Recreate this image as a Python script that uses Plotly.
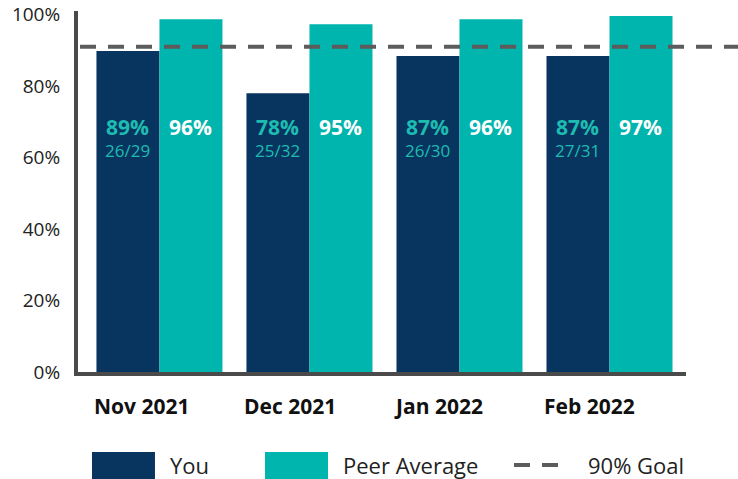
import plotly.graph_objects as go

MONTHS = ["Nov 2021", "Dec 2021", "Jan 2022", "Feb 2022"]
YOU_BAR = [89.8, 78.0, 88.4, 88.4]
PEER_BAR = [98.7, 97.3, 98.7, 99.6]
YOU_PCT = ["89%", "78%", "87%", "87%"]
YOU_FRAC = ["26/29", "25/32", "26/30", "27/31"]
PEER_PCT = ["96%", "95%", "96%", "97%"]
GOAL = 91.0
Y_TICKS = [0, 20, 40, 60, 80, 100]
Y_TICK_TEXT = ["0%", "20%", "40%", "60%", "80%", "100%"]

NAVY = "#08355f"
TEAL = "#00b5ae"
TEAL_TEXT = "#1dbcb1"
GREY = "#5c5c5c"
AXIS = "#4a4a4a"
FONT = "Open Sans"

fig = go.Figure()
fig.add_trace(go.Bar(x=MONTHS, y=YOU_BAR, name="You", marker=dict(color=NAVY, line_width=0)))
fig.add_trace(go.Bar(x=MONTHS, y=PEER_BAR, name="Peer Average", marker=dict(color=TEAL, line_width=0)))

ann = []
for m, p, f, q in zip(MONTHS, YOU_PCT, YOU_FRAC, PEER_PCT):
    ann.append(dict(x=m, y=68.5, xshift=-31.5, text=f"<b>{p}</b>", showarrow=False,
                    font=dict(size=21, color=TEAL_TEXT, family=FONT), yanchor="middle"))
    ann.append(dict(x=m, y=62.0, xshift=-31.5, text=f, showarrow=False,
                    font=dict(size=17, color=TEAL_TEXT, family=FONT), yanchor="middle"))
    ann.append(dict(x=m, y=68.5, xshift=31.5, text=f"<b>{q}</b>", showarrow=False,
                    font=dict(size=21, color="white", family=FONT), yanchor="middle"))
    # month label, left-aligned under the bar group
    ann.append(dict(x=m, y=-0.094, yref="paper", xshift=-67, xanchor="left", yanchor="middle",
                    text=f"<b>{m}</b>", showarrow=False,
                    font=dict(size=21, color="#111111", family=FONT)))

# legend drawn by hand (big swatches)
leg_y = -0.2576
for x0, label in [(0.148, "You"), (0.4326, "Peer Average"), (0.8355, "90% Goal")]:
    ann.append(dict(x=x0, y=leg_y, xref="paper", yref="paper", xanchor="left", yanchor="middle",
                    text=label, showarrow=False, font=dict(size=22, color="#222222", family=FONT)))

shapes = [
    dict(type="line", xref="paper", yref="y", x0=0.0033, x1=1.0855, y0=GOAL, y1=GOAL,
         line=dict(color=GREY, width=4, dash="16px,12px")),
    dict(type="rect", xref="paper", yref="paper", x0=0.023, x1=0.1266, y0=-0.2964, y1=-0.2216,
         fillcolor=NAVY, line_width=0),
    dict(type="rect", xref="paper", yref="paper", x0=0.3076, x1=0.4112, y0=-0.2964, y1=-0.2216,
         fillcolor=TEAL, line_width=0),
    dict(type="line", xref="paper", yref="paper", x0=0.7171, x1=0.7895, y0=leg_y, y1=leg_y,
         line=dict(color=GREY, width=4, dash="16px,12px")),
]

fig.update_layout(
    barmode="group",
    bargap=0.16,
    bargroupgap=0,
    showlegend=False,
    width=738,
    height=479,
    margin=dict(l=78, r=52, t=11, b=107),
    plot_bgcolor="white",
    paper_bgcolor="white",
    font=dict(family=FONT, size=18, color="#222222"),
    annotations=ann,
    shapes=shapes,
    xaxis=dict(range=[-0.543, 3.51], showticklabels=False, showgrid=False, zeroline=False,
               showline=True, linewidth=4, linecolor=AXIS, ticks="", automargin=False),
    yaxis=dict(range=[0, 101], tickmode="array", tickvals=Y_TICKS, ticktext=Y_TICK_TEXT,
               showgrid=False, zeroline=False, automargin=False,
               showline=True, linewidth=4, linecolor=AXIS, ticks="", ticklabelstandoff=10,
               tickfont=dict(size=19, color="#222222", family=FONT)),
)

fig.write_html("out.html", config={"displayModeBar": False},
               post_script="document.body.style.margin='0';")
